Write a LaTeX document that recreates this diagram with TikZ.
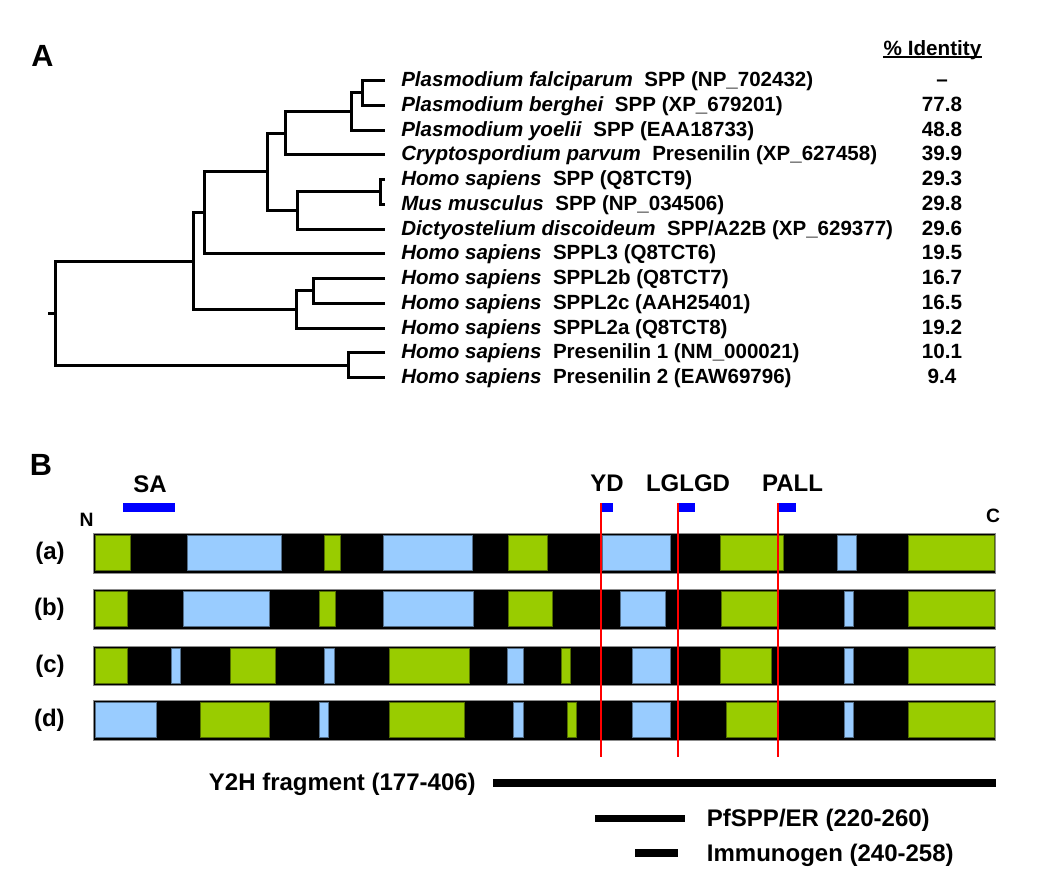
\documentclass[tikz,border=0pt]{standalone}
\usepackage{fontspec}
\setmainfont{Liberation Sans}
\definecolor{tmgreen}{HTML}{99CC00}
\definecolor{tmblue}{HTML}{99CCFF}
\definecolor{motifblue}{HTML}{0000FF}
\definecolor{markred}{HTML}{FF0000}
\begin{document}
\begin{tikzpicture}[x=0.75pt,y=-0.75pt,
  treeline/.style={line width=2.25pt},
  leaflab/.style={anchor=base west,inner sep=0pt,font=\fontsize{15.4pt}{18pt}\selectfont\bfseries},
  pctlab/.style={anchor=base,inner sep=0pt,font=\fontsize{15.5pt}{18pt}\selectfont\bfseries},
  panel/.style={anchor=base,inner sep=0pt,font=\fontsize{23pt}{26pt}\selectfont\bfseries},
  motiflab/.style={anchor=base,inner sep=0pt,font=\fontsize{18pt}{21pt}\selectfont\bfseries},
  endlab/.style={anchor=base,inner sep=0pt,font=\fontsize{14.5pt}{17pt}\selectfont\bfseries},
  rowlab/.style={anchor=east,inner sep=0pt,font=\fontsize{18pt}{21pt}\selectfont\bfseries},
  fraglab/.style={inner sep=0pt,font=\fontsize{18pt}{21pt}\selectfont\bfseries},
  barframe/.style={fill=black,draw=black!45,line width=0.75pt},
  segg/.style={fill=tmgreen,draw=tmgreen!55!black,line width=0.5pt},
  segb/.style={fill=tmblue,draw=tmblue!55!black,line width=0.5pt},
  motifbar/.style={fill=motifblue},
  redmark/.style={draw=markred,line width=1.5pt},
  fragbar/.style={fill=black}]
\useasboundingbox (0,0) rectangle (1044,875);

% ---------------- Panel A ----------------
\node[panel] (labA) at (42.5,66.7) {A};

% leaf end points
\foreach \i/\y in {1/80.5,2/105.25,3/130,4/154.75,5/179.5,6/204.25,7/229,8/253.75,9/278.5,10/303.25,11/328,12/352.75,13/377.5}
  \coordinate (L\i) at (385,\y);

% internal nodes
\coordinate (N1) at (362,92.875);
\coordinate (N2) at (351,111.44);
\coordinate (N3) at (285,133.1);
\coordinate (N4) at (380,191.875);
\coordinate (N5) at (297,210.44);
\coordinate (N6) at (267,171.77);
\coordinate (N7) at (204,212.76);
\coordinate (N8) at (313.3,290.875);
\coordinate (N9) at (296,309.44);
\coordinate (N10) at (193,261.1);
\coordinate (N11) at (348.3,365.125);
\coordinate (R) at (55,313.1);
\coordinate (Rs) at (48.3,313.1);

\draw[treeline] (L1) -| (N1) |- (L2);
\draw[treeline] (N1) -| (N2) |- (L3);
\draw[treeline] (N2) -| (N3) |- (L4);
\draw[treeline] (L5) -| (N4) |- (L6);
\draw[treeline] (N4) -| (N5) |- (L7);
\draw[treeline] (N3) -| (N6) |- (N5);
\draw[treeline] (N6) -| (N7) |- (L8);
\draw[treeline] (L9) -| (N8) |- (L10);
\draw[treeline] (N8) -| (N9) |- (L11);
\draw[treeline] (N7) -| (N10) |- (N9);
\draw[treeline] (L12) -| (N11) |- (L13);
\draw[treeline] (N10) -| (R) |- (N11);
\draw[treeline] (Rs) -- (R);

% leaf labels
\node[leaflab] (t1) at (401,86.5) {\textit{Plasmodium falciparum}\ \ SPP (NP\_702432)};
\node[leaflab] (t2) at (401,111.25) {\textit{Plasmodium berghei}\ \ SPP (XP\_679201)};
\node[leaflab] (t3) at (401,136) {\textit{Plasmodium yoelii}\ \ SPP (EAA18733)};
\node[leaflab] (t4) at (401,160.75) {\textit{Cryptospordium parvum}\ \ Presenilin (XP\_627458)};
\node[leaflab] (t5) at (401,185.5) {\textit{Homo sapiens}\ \ SPP (Q8TCT9)};
\node[leaflab] (t6) at (401,210.25) {\textit{Mus musculus}\ \ SPP (NP\_034506)};
\node[leaflab] (t7) at (401,235) {\textit{Dictyostelium discoideum}\ \ SPP/A22B (XP\_629377)};
\node[leaflab] (t8) at (401,259.75) {\textit{Homo sapiens}\ \ SPPL3 (Q8TCT6)};
\node[leaflab] (t9) at (401,284.5) {\textit{Homo sapiens}\ \ SPPL2b (Q8TCT7)};
\node[leaflab] (t10) at (401,309.25) {\textit{Homo sapiens}\ \ SPPL2c (AAH25401)};
\node[leaflab] (t11) at (401,334) {\textit{Homo sapiens}\ \ SPPL2a (Q8TCT8)};
\node[leaflab] (t12) at (401,358.75) {\textit{Homo sapiens}\ \ Presenilin 1 (NM\_000021)};
\node[leaflab] (t13) at (401,383.5) {\textit{Homo sapiens}\ \ Presenilin 2 (EAW69796)};

% identity column
\node[pctlab] (pid) at (932.5,55) {\% Identity};
\draw[line width=1.1pt] ([yshift=-1.6pt]pid.base west) -- ([yshift=-1.6pt]pid.base east);
\foreach \i/\y/\v in {1/86.5/--,2/111.25/77.8,3/136/48.8,4/160.75/39.9,5/185.5/29.3,6/210.25/29.8,7/235/29.6,8/259.75/19.5,9/284.5/16.7,10/309.25/16.5,11/334/19.2,12/358.75/10.1,13/383.5/9.4}
  \node[pctlab] (p\i) at (942,\y) {\v};

% ---------------- Panel B ----------------
\node[panel] (labB) at (41,475) {B};

% motif markers
\fill[motifbar] (122.7,502.7) rectangle (174.7,511.7);
\fill[motifbar] (601.7,502.7) rectangle (613.3,511.7);
\fill[motifbar] (678.3,502.7) rectangle (695.3,511.7);
\fill[motifbar] (779,502.7) rectangle (796,511.7);
\node[motiflab] (mSA) at (150,492.7) {SA};
\node[motiflab] (mYD) at (607,491.7) {YD};
\node[motiflab] (mLG) at (688,491.7) {LGLGD};
\node[motiflab] (mPA) at (792.5,491.7) {PALL};
\node[endlab] (nN) at (86.5,526.7) {N};
\node[endlab] (nC) at (993,522.5) {C};

% bar (a)
\draw[barframe] (93.3,533.3) rectangle (995.7,573.3);
\foreach \c/\a/\b in {g/95.7/130.7,b/187.7/281,g/324.3/340,b/383.3/472.7,g/508.3/547.7,b/602.3/670.7,g/720.3/783.3,b/837.7/856,g/908.3/994}
  \draw[seg\c] (\a,535.8) rectangle (\b,570.8);
% bar (b)
\draw[barframe] (93.3,589.3) rectangle (995.7,629.3);
\foreach \c/\a/\b in {g/95.7/127.7,b/183/269,g/319/335.7,b/383.3/473.3,g/508.3/552.7,b/620/665,g/721/777.5,b/844.3/853.7,g/908.3/994}
  \draw[seg\c] (\a,591.8) rectangle (\b,626.8);
% bar (c)
\draw[barframe] (93.3,646) rectangle (995.7,685.7);
\foreach \c/\a/\b in {g/95.7/127.7,b/171/180.7,g/230/275,b/324.3/334.3,g/389.3/469.3,b/507.7/523.3,g/561/570.7,b/632/670.7,g/720.3/771.7,b/844.3/853.7,g/908.7/994}
  \draw[seg\c] (\a,648.5) rectangle (\b,683.2);
% bar (d)
\draw[barframe] (93.3,700) rectangle (995.7,740);
\foreach \c/\a/\b in {b/95.7/156.7,g/200.7/269,b/319/328,g/389.3/464,b/513.3/523.3,g/567/576,b/632/670.7,g/726/777.3,b/844.3/853.7,g/908.7/994}
  \draw[seg\c] (\a,702.5) rectangle (\b,737.5);

\node[rowlab] (ra) at (65,553.3) {(a)};
\node[rowlab] (rb) at (65,609.3) {(b)};
\node[rowlab] (rc) at (65,666) {(c)};
\node[rowlab] (rd) at (65,720) {(d)};

% red motif lines
\draw[redmark] (601,503.3) -- (601,756.7);
\draw[redmark] (677.7,503.3) -- (677.7,756.7);
\draw[redmark] (778.3,503.3) -- (778.3,756.7);

% fragments
\fill[fragbar] (493,779.3) rectangle (995.7,786.7);
\node[fraglab,anchor=base east] (fY2H) at (476,790) {Y2H fragment (177-406)};
\fill[fragbar] (595,815) rectangle (685,822.3);
\node[fraglab,anchor=base west] (fER) at (706.7,826.7) {PfSPP/ER (220-260)};
\fill[fragbar] (635,849.3) rectangle (678.3,856.7);
\node[fraglab,anchor=base west] (fIm) at (706.7,861.7) {Immunogen (240-258)};
\end{tikzpicture}
\end{document}
